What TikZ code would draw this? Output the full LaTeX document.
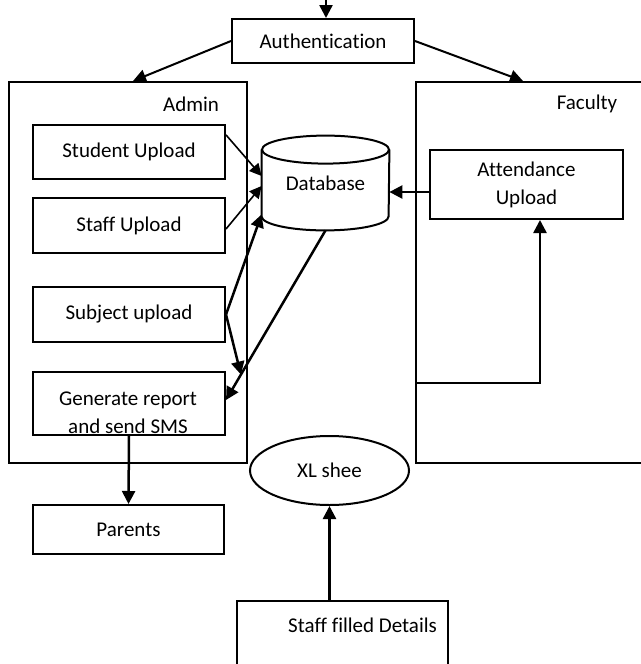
\documentclass[tikz,border=0pt]{standalone}
\usepackage{fontspec}
\setmainfont{Carlito}[Ligatures=NoCommon]
\usetikzlibrary{positioning,arrows.meta,shapes.geometric,calc}

\tikzset{
  box/.style={draw, line width=1pt, rectangle, inner sep=0pt},
  arr/.style={-{Triangle[length=6.5pt,width=6.5pt]}, line width=1.25pt},
  thinarr/.style={-{Triangle[length=6pt,width=6pt]}, line width=0.8pt}
}

\begin{document}
\begin{tikzpicture}[x=0.5pt,y=-0.5pt,font=\fontsize{10.5}{14}\selectfont]
\useasboundingbox (0,0) rectangle (641,664);
% outer boxes
\node[box, minimum width=119pt, minimum height=190.5pt] (admin) at (128,272.5) {};
\node[box, minimum width=122pt, minimum height=190.5pt] (faculty) at (538,272.5) {};
\node (adminlbl) at (191,104) {Admin};
\node (facultylbl) at (587,104) {Faculty};
% login
\coordinate (entry) at (326,0);
\node[box, minimum width=91pt, minimum height=22pt] (auth) at (323,41) {Authentication};
% admin side
\node[box, minimum width=96pt, minimum height=27pt] (student) at (129,152) {Student Upload};
\node[box, minimum width=96pt, minimum height=27.5pt] (staff) at (129,225.5) {Staff Upload};
\node[box, minimum width=96pt, minimum height=27.5pt] (subject) at (129,314.5) {Subject upload};
\node[box, minimum width=96pt, minimum height=31.5pt] (report) at (129,403.5) {};
\node[align=center] (reportlbl) at (128,413) {Generate report\\and send SMS};
\node[box, minimum width=95.5pt, minimum height=24.5pt] (parents) at (128.5,529.5) {Parents};
% database
\node[minimum width=63.5pt, minimum height=47pt, inner sep=0pt] (database) at (325.5,183) {Database};
\draw[line width=1pt] ([yshift=-7pt]database.north) ellipse [x radius=31.75pt, y radius=7pt];
\draw[line width=1pt] ([yshift=-7pt]database.north west) -- ([yshift=7pt]database.south west)
  arc [start angle=180, end angle=360, x radius=31.75pt, y radius=7pt] -- ([yshift=-7pt]database.north east);
% faculty side
\node[box, align=center, minimum width=96.5pt, minimum height=34.5pt] (attend) at (526.5,184.5) {Attendance\\Upload};
% excel sheet
\node[draw, ellipse, line width=1pt, inner sep=0pt, minimum width=79.5pt, minimum height=34.5pt] (xl) at (329.5,470.5) {XL shee};
\node[box, minimum width=105.5pt, minimum height=49.5pt] (staffdet) at (342.5,650.5) {};
\node[anchor=east] (staffdetlbl) at (444,625) {Staff filled Details};
% arrows
\draw[arr] (entry) -- (entry |- auth.north);
\draw[arr, line width=1pt] (auth.west) -- ([xshift=2.5pt]admin.north);
\draw[arr, line width=1pt] (auth.east) -- ([xshift=-7.5pt]faculty.north);
\draw[thinarr] (student.10) -- ([yshift=3.5pt]database.west);
\draw[thinarr] ([yshift=-1.75pt]staff.east) -- ([yshift=-1.5pt]database.west);
\draw[arr] (subject.east) -- ([yshift=8pt]database.south west);
\coordinate (jn) at ($(database.south)!0.85!([yshift=1.75pt]report.east)$);
\draw[arr] (subject.east) -- (jn);
\draw[arr] (database.south) -- ([yshift=1.75pt]report.east);
\draw[arr] ([yshift=-3.75pt]attend.west) -- ([yshift=-3.75pt]attend.west -| database.east);
\draw[arr] ([yshift=-55.25pt]faculty.west) -| ([xshift=6.75pt]attend.south);
\draw[arr] (report.south) -- (parents.north);
\draw[arr] (xl.south |- staffdet.north) -- (xl.south);
\end{tikzpicture}
\end{document}
